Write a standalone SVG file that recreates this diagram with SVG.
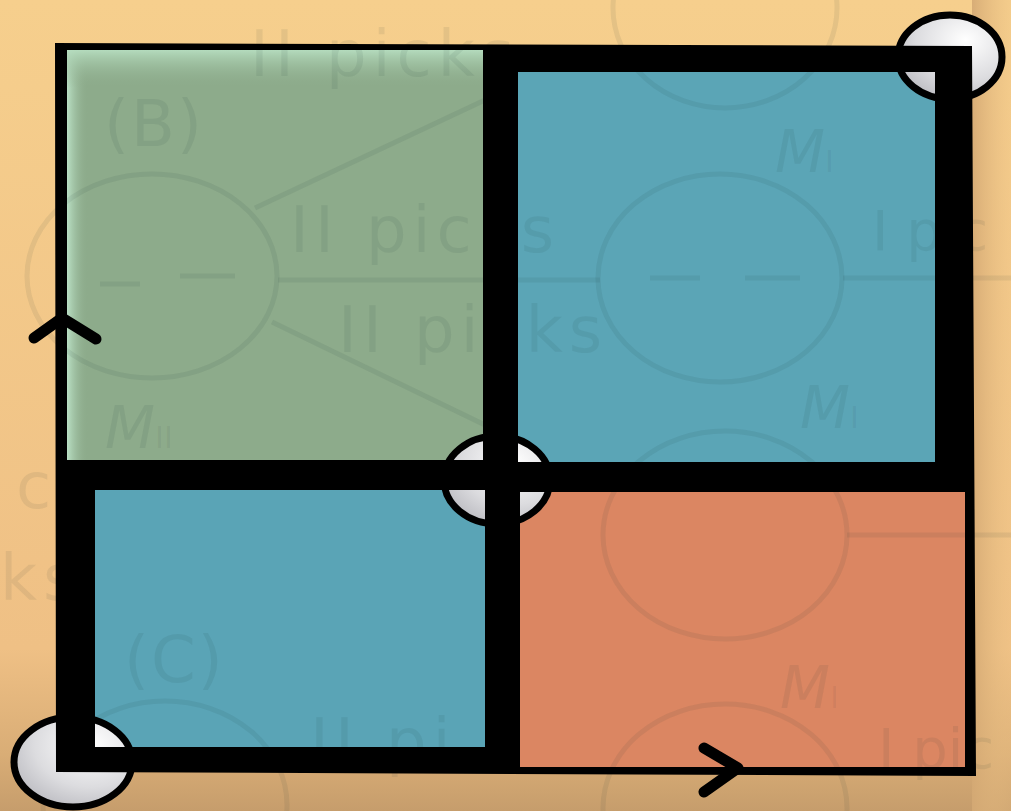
<svg xmlns="http://www.w3.org/2000/svg" width="1011" height="811" viewBox="0 0 1011 811">
<defs>
<linearGradient id="bg" x1="0" y1="0" x2="0" y2="1">
<stop offset="0" stop-color="#f6cf8d"/>
<stop offset="0.8" stop-color="#efc085"/>
<stop offset="0.93" stop-color="#d9ad76"/>
<stop offset="1" stop-color="#c69d6c"/>
</linearGradient>
<linearGradient id="rightEdge" x1="0" y1="0" x2="1" y2="0">
<stop offset="0" stop-color="#d4a974" stop-opacity="0.9"/>
<stop offset="1" stop-color="#efc587" stop-opacity="0.3"/>
</linearGradient>
<linearGradient id="greenLeft" x1="0" y1="0" x2="1" y2="0">
<stop offset="0" stop-color="#bfe6cb"/>
<stop offset="1" stop-color="#8dab8b" stop-opacity="0"/>
</linearGradient>
<linearGradient id="greenTop" x1="0" y1="0" x2="0" y2="1">
<stop offset="0" stop-color="#b8e0c2"/>
<stop offset="1" stop-color="#8dab8b" stop-opacity="0"/>
</linearGradient>
<radialGradient id="ball" cx="0.65" cy="0.3" r="0.8">
<stop offset="0" stop-color="#ffffff"/>
<stop offset="0.6" stop-color="#dcdcdf"/>
<stop offset="1" stop-color="#b8b8be"/>
</radialGradient>
<style>
.ghost{font-family:"DejaVu Sans","Liberation Sans",sans-serif;font-size:64px;letter-spacing:6px;fill:#1e3438;fill-opacity:0.08}
.ghost.edge{font-size:56px;letter-spacing:0}
.ghost.tight{letter-spacing:2px}
.ghostI{font-family:"DejaVu Sans","Liberation Sans",sans-serif;font-size:58px;font-style:italic;fill:#1e3438;fill-opacity:0.08}
.sub{font-size:30px;font-style:normal}
.gline{fill:none;stroke:#1e3438;stroke-opacity:0.08;stroke-width:5}
.ball{fill:url(#ball);stroke:#000;stroke-width:7}
.chev{fill:none;stroke:#000;stroke-width:11;stroke-linecap:round;stroke-linejoin:round}
</style>
</defs>

<!-- background -->
<rect x="0" y="0" width="1011" height="811" fill="url(#bg)"/>
<rect x="972" y="0" width="39" height="811" fill="url(#rightEdge)"/>

<!-- quadrants -->
<g id="quad-tl">
<rect x="60" y="46" width="428" height="418" fill="#8dab8b"/>
<rect x="66" y="48" width="22" height="416" fill="url(#greenLeft)"/>
<rect x="66" y="48" width="422" height="40" fill="url(#greenTop)"/>
</g>
<g id="quad-tr"><rect x="510" y="66" width="430" height="400" fill="#5ba5b6"/></g>
<g id="quad-bl"><rect x="90" y="484" width="400" height="268" fill="#5aa4b6"/></g>
<g id="quad-br"><rect x="514" y="486" width="456" height="286" fill="#db8662"/></g>

<!-- faint background drawing -->
<g id="ghost">
<ellipse class="gline" cx="152" cy="276" rx="125" ry="102"/>
<line class="gline" x1="255" y1="208" x2="485" y2="100"/>
<line class="gline" x1="278" y1="280" x2="600" y2="280"/>
<line class="gline" x1="272" y1="322" x2="485" y2="425"/>
<line class="gline" x1="100" y1="284" x2="140" y2="284"/>
<line class="gline" x1="180" y1="276" x2="235" y2="276"/>
<ellipse class="gline" cx="720" cy="278" rx="122" ry="104"/>
<line class="gline" x1="843" y1="278" x2="1011" y2="278"/>
<line class="gline" x1="650" y1="278" x2="700" y2="278"/>
<line class="gline" x1="745" y1="278" x2="800" y2="278"/>
<ellipse class="gline" cx="725" cy="8" rx="112" ry="100"/>
<ellipse class="gline" cx="725" cy="535" rx="122" ry="104"/>
<ellipse class="gline" cx="725" cy="808" rx="122" ry="104"/>
<ellipse class="gline" cx="165" cy="805" rx="122" ry="104"/>
<line class="gline" x1="847" y1="535" x2="1011" y2="535"/>
<text class="ghost" x="250" y="76">II picks</text>
<text class="ghost tight" x="104" y="146">(B)</text>
<text class="ghost" x="290" y="252">II  picks</text>
<text class="ghost" x="338" y="352">II picks</text>
<text class="ghostI" x="105" y="448">M<tspan class="sub">II</tspan></text>
<text class="ghostI" x="775" y="172">M<tspan class="sub">I</tspan></text>
<text class="ghost edge" x="872" y="250">I pic</text>
<text class="ghostI" x="800" y="428">M<tspan class="sub">I</tspan></text>
<text class="ghost" x="16" y="508">c</text>
<text class="ghost" x="0" y="600">ks</text>
<text class="ghost tight" x="124" y="682">(C)</text>
<text class="ghostI" x="780" y="708">M<tspan class="sub">I</tspan></text>
<text class="ghost edge" x="878" y="768">I pic</text>
<text class="ghost" x="310" y="764">II pi</text>
</g>

<!-- corner balls -->
<g id="ball-tr"><ellipse class="ball" cx="950" cy="57" rx="52" ry="42"/></g>
<g id="ball-mid"><ellipse class="ball" cx="497" cy="480" rx="53" ry="44"/></g>
<g id="ball-bl"><ellipse class="ball" cx="73" cy="762" rx="59" ry="45"/></g>

<!-- black frame -->
<g id="connectors">
<path fill="#000" fill-rule="evenodd" d="M55,43 L972,46 L976,776 L56,772 Z
M67,50 L483,50 L483,460 L67,460 Z
M518,72 L935,72 L935,462 L518,462 Z
M95,490 L485,490 L485,747 L95,747 Z
M520,492 L965,492 L965,767 L520,767 Z"/>
<polyline class="chev" points="34,338 62,318 96,339"/>
<polyline class="chev" points="704,748 738,768 704,792"/>
</g>
</svg>
